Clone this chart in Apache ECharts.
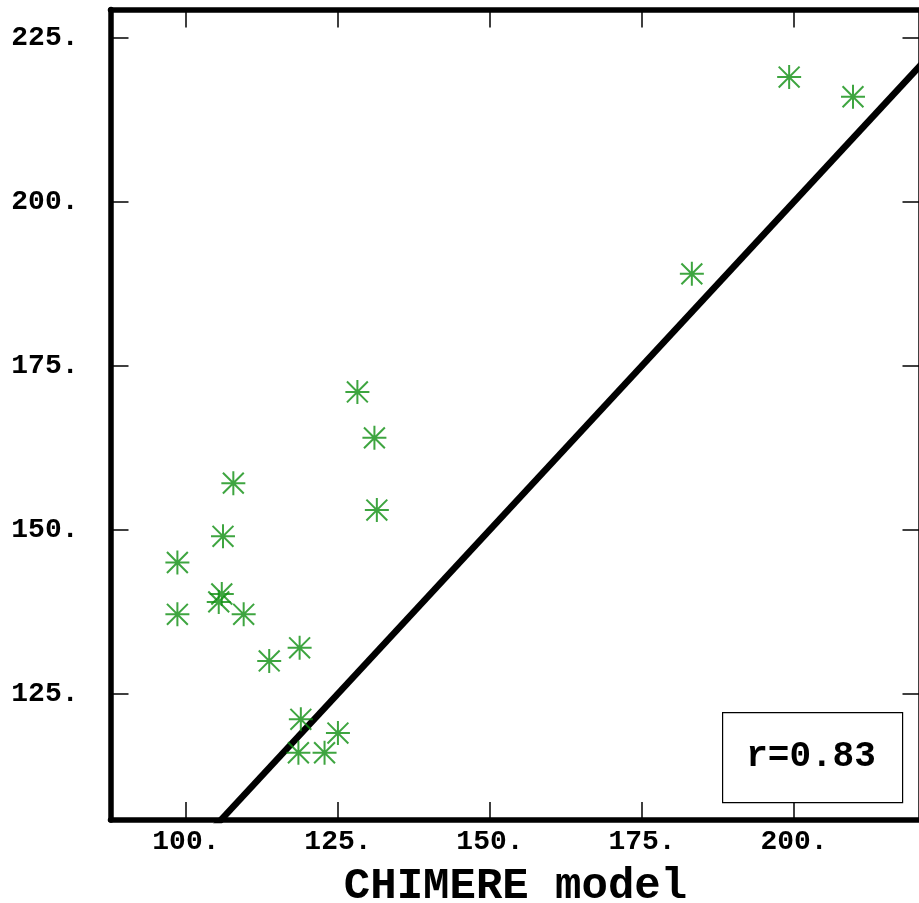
<!DOCTYPE html>
<html>
<head>
<meta charset="utf-8">
<script src="https://cdn.jsdelivr.net/npm/echarts@6/dist/echarts.min.js"></script>
<style>
html,body{margin:0;padding:0;background:#fff;}
#main{width:919px;height:903px;}
</style>
</head>
<body>
<div id="main"></div>
<script>
// CHIMERE model (x) vs observed (y)
const modelValues = [107.8, 106.1, 98.6, 105.9, 105.4, 98.6, 109.5, 131.4, 113.7, 118.7, 118.9, 125.0, 118.5, 122.8, 128.2, 131.0, 199.2, 209.7, 183.2];
const observedValues = [157.1, 149.0, 145.0, 140.2, 139.0, 137.1, 137.1, 153.0, 130.0, 132.0, 121.1, 119.0, 116.0, 116.0, 171.0, 164.0, 219.0, 216.0, 189.0];
const xTicks = [100, 125, 150, 175, 200];
const yTicks = [125, 150, 175, 200, 225];
const oneToOneLine = [[80, 80], [240, 240]];
const rLabel = 'r=0.83';
const xTitle = 'CHIMERE model';

const points = modelValues.map((v, i) => [v, observedValues[i]]);
const FONT = "'Liberation Mono', 'Courier New', monospace";
const xMin = 87.6, xMax = 220.8, yMin = 105.75, yMax = 229.3;

const chart = echarts.init(document.getElementById('main'), null, {renderer: 'canvas'});
const tickStyle = {show: true, inside: true, length: 18, lineStyle: {color: '#000', width: 1.5}};
chart.setOption({
  animation: false,
  backgroundColor: '#fff',
  grid: {left: 110.5, right: -1.5, top: 9.5, bottom: 83, containLabel: false, outerBoundsMode: 'none'},
  xAxis: [
    {
      type: 'value', min: xMin, max: xMax, position: 'bottom',
      name: xTitle, nameLocation: 'middle', nameGap: 45,
      nameTextStyle: {fontFamily: FONT, fontWeight: 'bold', fontSize: 44, color: '#000'},
      axisLine: {show: true, onZero: false, lineStyle: {color: '#000', width: 5.5}},
      axisTick: Object.assign({customValues: xTicks}, tickStyle),
      axisLabel: {show: true, customValues: xTicks, formatter: v => v + '.', margin: 8,
        fontFamily: FONT, fontWeight: 'bold', fontSize: 28, color: '#000'},
      splitLine: {show: false}
    },
    {
      type: 'value', min: xMin, max: xMax, position: 'top',
      axisLine: {show: true, onZero: false, lineStyle: {color: '#000', width: 5.5}},
      axisTick: Object.assign({customValues: xTicks}, tickStyle),
      axisLabel: {show: false},
      splitLine: {show: false}
    }
  ],
  yAxis: [
    {
      type: 'value', min: yMin, max: yMax, position: 'left',
      axisLine: {show: true, onZero: false, lineStyle: {color: '#000', width: 5.5}},
      axisTick: Object.assign({customValues: yTicks}, tickStyle),
      axisLabel: {show: true, customValues: yTicks, formatter: v => v + '.', margin: 32,
        fontFamily: FONT, fontWeight: 'bold', fontSize: 28, color: '#000'},
      splitLine: {show: false}
    },
    {
      type: 'value', min: yMin, max: yMax, position: 'right',
      axisLine: {show: true, onZero: false, lineStyle: {color: '#000', width: 5.5}},
      axisTick: Object.assign({customValues: yTicks}, tickStyle),
      axisLabel: {show: false},
      splitLine: {show: false}
    }
  ],
  series: [
    {
      type: 'line', xAxisIndex: 0, yAxisIndex: 0, data: oneToOneLine,
      showSymbol: false, symbol: 'none', clip: true,
      lineStyle: {color: '#000', width: 6.5}, z: 2
    },
    {
      type: 'scatter', xAxisIndex: 0, yAxisIndex: 0, data: points,
      symbol: 'path://M-1,-1L1,1M-1,1L1,-1M0,-1.15L0,1.15M-1.15,0L1.15,0',
      symbolSize: 24,
      itemStyle: {color: 'none', borderColor: '#0e8f10', borderWidth: 2},
      z: 3
    }
  ],
  graphic: [
    {
      type: 'rect', left: 722, top: 712,
      shape: {width: 180, height: 90},
      style: {fill: '#fff', stroke: '#000', lineWidth: 1.2}, z: 10
    },
    {
      type: 'text', x: 811, y: 757,
      style: {text: rLabel, fontFamily: FONT, fontWeight: 'bold', fontSize: 36, fill: '#000',
        align: 'center', verticalAlign: 'middle'}, z: 11
    }
  ]
});
</script>
</body>
</html>
